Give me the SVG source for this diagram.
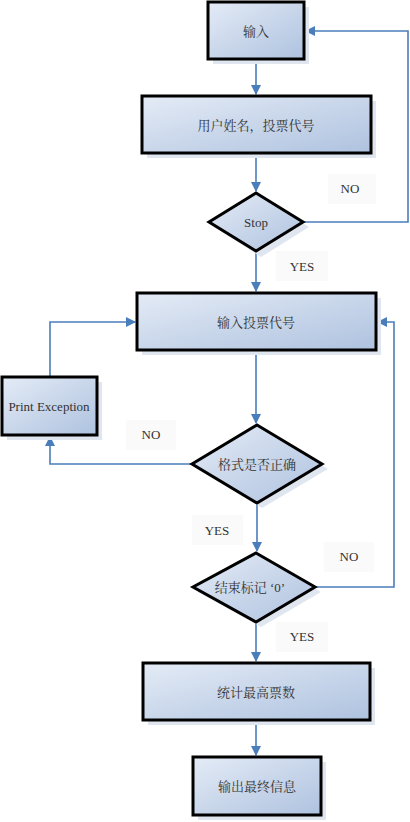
<svg xmlns="http://www.w3.org/2000/svg" width="410" height="822" viewBox="0 0 410 822">
  <defs>
    <linearGradient id="fill" x1="0" y1="0" x2="1" y2="1">
      <stop offset="0" stop-color="#e4ebf6"/>
      <stop offset="1" stop-color="#aec2df"/>
    </linearGradient>
    <marker id="arr" viewBox="0 0 10 10" refX="9" refY="5" markerWidth="10" markerHeight="10" markerUnits="userSpaceOnUse" orient="auto">
      <path d="M0,0 L10,5 L0,10 z" fill="#4a7ebb"/>
    </marker>
  </defs>
  <style>
    .shape { fill: url(#fill); stroke: #000; stroke-width: 3; }
    .shadow { fill: #dfe6f0; }
    .edge { fill: none; stroke: #4a7ebb; stroke-width: 1.6; }
    .lblbg { fill: #fafafa; }
    .t { font-family: "Liberation Serif", "Noto Serif CJK SC", "Noto Sans CJK SC", serif; font-size: 13px; fill: #333; text-anchor: middle; dominant-baseline: central; }
  </style>
  <rect width="410" height="822" fill="#fff"/>

  <!-- connectors -->
  <g id="connectors">
    <path class="edge" d="M256,60 V94" marker-end="url(#arr)"/>
    <path class="edge" d="M256,154 V191" marker-end="url(#arr)"/>
    <path class="edge" d="M304,222 H408 V31 H306" marker-end="url(#arr)"/>
    <path class="edge" d="M256,252 V291" marker-end="url(#arr)"/>
    <path class="edge" d="M256,351 V423" marker-end="url(#arr)"/>
    <path class="edge" d="M192,464 H50 V437" marker-end="url(#arr)"/>
    <path class="edge" d="M50,376 V322 H135" marker-end="url(#arr)"/>
    <path class="edge" d="M257,503 V551" marker-end="url(#arr)"/>
    <path class="edge" d="M315,587 H394 V322 H378" marker-end="url(#arr)"/>
    <path class="edge" d="M256,622 V661" marker-end="url(#arr)"/>
    <path class="edge" d="M256,721 V755" marker-end="url(#arr)"/>
  </g>

  <!-- edge labels -->
  <g id="labels">
    <rect class="lblbg" x="328" y="174" width="48" height="30"/>
    <text class="t" x="350" y="188">NO</text>
    <rect class="lblbg" x="276" y="251" width="52" height="30"/>
    <text class="t" x="302" y="266">YES</text>
    <rect class="lblbg" x="126" y="420" width="50" height="30"/>
    <text class="t" x="151" y="434">NO</text>
    <rect class="lblbg" x="192" y="515" width="51" height="30"/>
    <text class="t" x="217" y="530">YES</text>
    <rect class="lblbg" x="324" y="542" width="50" height="30"/>
    <text class="t" x="349" y="556">NO</text>
    <rect class="lblbg" x="276" y="622" width="52" height="30"/>
    <text class="t" x="302" y="636">YES</text>
  </g>

  <g id="input">
    <rect class="shadow" x="213" y="7" width="96" height="57"/>
    <rect class="shape" x="208" y="2" width="96" height="57"/>
    <text class="t" x="256" y="31">输入</text>
  </g>

  <g id="user-info">
    <rect class="shadow" x="147" y="101" width="229" height="57"/>
    <rect class="shape" x="142" y="96" width="229" height="57"/>
    <text class="t" x="256" y="125">用户姓名，投票代号</text>
  </g>

  <g id="stop">
    <path class="shadow" d="M261,198 L309,227 L261,257 L214,227 z"/>
    <path class="shape" d="M256,193 L303,222 L256,251 L209,222 z"/>
    <text class="t" x="256" y="222">Stop</text>
  </g>

  <g id="input-code">
    <rect class="shadow" x="142" y="298" width="239" height="57"/>
    <rect class="shape" x="137" y="293" width="239" height="57"/>
    <text class="t" x="256" y="322">输入投票代号</text>
  </g>

  <g id="print-exception">
    <rect class="shadow" x="7" y="382" width="95" height="58"/>
    <rect class="shape" x="2" y="377" width="95" height="58"/>
    <text class="t" x="49" y="406">Print Exception</text>
  </g>

  <g id="format-check">
    <path class="shadow" d="M262,430 L328,469 L262,508 L197,469 z"/>
    <path class="shape" d="M257,425 L322,464 L257,503 L192,464 z"/>
    <text class="t" x="257" y="464">格式是否正确</text>
  </g>

  <g id="end-mark">
    <path class="shadow" d="M261,558 L321,592 L261,627 L198,592 z"/>
    <path class="shape" d="M256,553 L315,587 L256,622 L193,587 z"/>
    <text class="t" x="250" y="587">结束标记 ‘0’</text>
  </g>

  <g id="count-max">
    <rect class="shadow" x="148" y="668" width="227" height="57"/>
    <rect class="shape" x="143" y="663" width="227" height="57"/>
    <text class="t" x="256" y="692">统计最高票数</text>
  </g>

  <g id="output">
    <rect class="shadow" x="198" y="762" width="128" height="58"/>
    <rect class="shape" x="193" y="757" width="128" height="58"/>
    <text class="t" x="257" y="786">输出最终信息</text>
  </g>
</svg>
